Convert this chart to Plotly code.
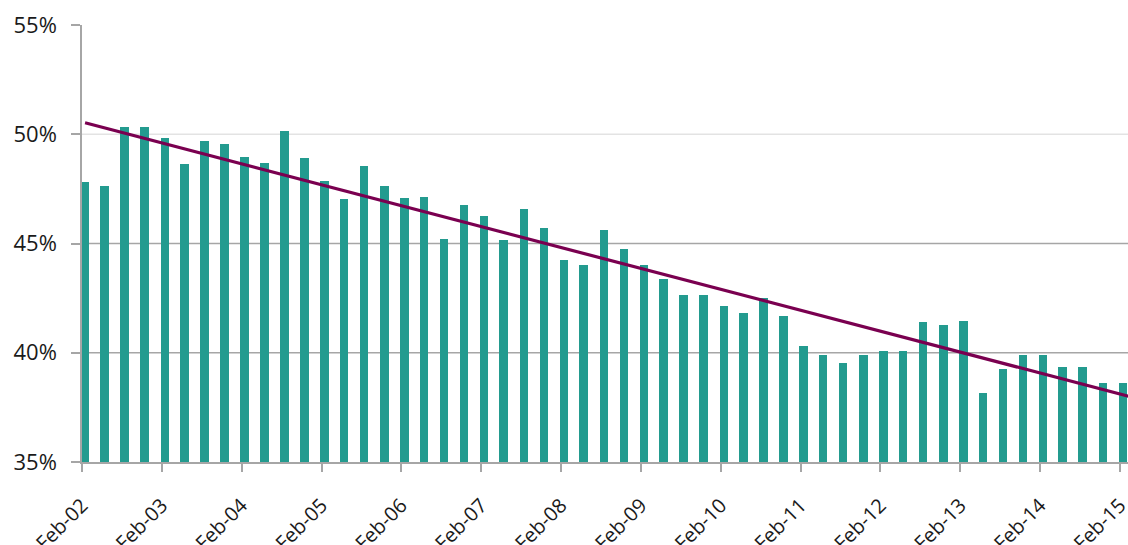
import numpy as np
import pandas as pd
import plotly.graph_objects as go

# Quarterly share values (%), Feb-2002 .. Feb-2015
values = [
    47.82, 47.61, 50.35, 50.33, 49.82, 48.65, 49.67, 49.54, 48.98, 48.69,
    50.16, 48.92, 47.88, 47.02, 48.54, 47.64, 47.10, 47.13, 45.21, 46.74,
    46.27, 45.16, 46.58, 45.73, 44.24, 44.00, 45.62, 44.73, 44.03, 43.38,
    42.66, 42.63, 42.15, 41.82, 42.52, 41.67, 40.32, 39.90, 39.52, 39.92,
    40.10, 40.08, 41.40, 41.27, 41.45, 38.17, 39.27, 39.89, 39.89, 39.36,
    39.36, 38.61, 38.61,
]
start_year = 2002
start_month = 2  # February
tick_years = list(range(2002, 2016))
tick_labels = [f"Feb-{y % 100:02d}" for y in tick_years]
y_ticks = [0.35, 0.40, 0.45, 0.50, 0.55]

# dates of each quarterly observation (mid-month)
dates = []
for k in range(len(values)):
    m = (start_month - 1) + 3 * k
    dates.append(pd.Timestamp(year=start_year + m // 12, month=m % 12 + 1, day=15))
dates = pd.to_datetime(dates)
yvals = np.array(values) / 100.0

# linear trend line (least squares on date)
t = (dates - dates[0]).days.values.astype(float)
coef = np.polyfit(t, yvals, 1)
end_date = pd.Timestamp("2015-04-01")
t_end = (end_date - dates[0]).days
trend_x = [dates[0], end_date]
trend_y = [np.polyval(coef, 0.0), np.polyval(coef, float(t_end))]

BAR = "#239b8f"
LINE = "#7a0050"
AX = "#a6a6a6"

fig = go.Figure()
fig.add_trace(go.Bar(
    x=dates, y=yvals,
    marker=dict(color=BAR, line=dict(width=0)),
    width=39 * 86400000,
    showlegend=False,
))
fig.add_trace(go.Scatter(
    x=trend_x, y=trend_y, mode="lines",
    line=dict(color=LINE, width=3.2),
    showlegend=False,
))

# horizontal gridlines (Excel-like: lighter at 50%)
grid_colors = {0.40: AX, 0.45: AX, 0.50: "#e3e3e3"}
for yv, c in grid_colors.items():
    fig.add_shape(type="line", xref="paper", yref="y", x0=0, x1=1, y0=yv, y1=yv,
                  line=dict(color=c, width=1.5), layer="below")

fig.update_layout(
    width=1128, height=545,
    margin=dict(l=82, r=0, t=25, b=83),
    paper_bgcolor="white", plot_bgcolor="white",
    font=dict(family="Open Sans, Noto Sans, sans-serif", size=21, color="#1a1a1a"),
    bargap=0,
)
fig.update_xaxes(
    type="date",
    range=["2002-02-01", "2015-03-10"],
    tickvals=[pd.Timestamp(year=y, month=2, day=1) for y in tick_years],
    ticktext=tick_labels,
    tickangle=-45,
    ticks="outside", ticklen=8, tickwidth=1.5, tickcolor=AX,
    showline=True, linecolor=AX, linewidth=1.5,
    showgrid=False, zeroline=False,
    tickfont=dict(size=20),
    automargin=False,
    ticklabeloverflow="allow",
    ticklabelstandoff=14,
    ticklabelshift=0,
)
fig.update_yaxes(
    range=[0.35, 0.55],
    tickvals=y_ticks,
    tickformat=".0%",
    ticks="outside", ticklen=9, tickwidth=1.5, tickcolor=AX,
    showline=True, linecolor=AX, linewidth=1.5,
    showgrid=False, zeroline=False,
    tickfont=dict(size=22),
    automargin=False,
    ticklabelstandoff=10,
)

# remove the page's default body margin so the figure fills the window exactly
fig.write_html(
    "out.html",
    config={"displayModeBar": False},
    post_script="document.body.style.margin='0';document.body.style.overflow='hidden';",
)
